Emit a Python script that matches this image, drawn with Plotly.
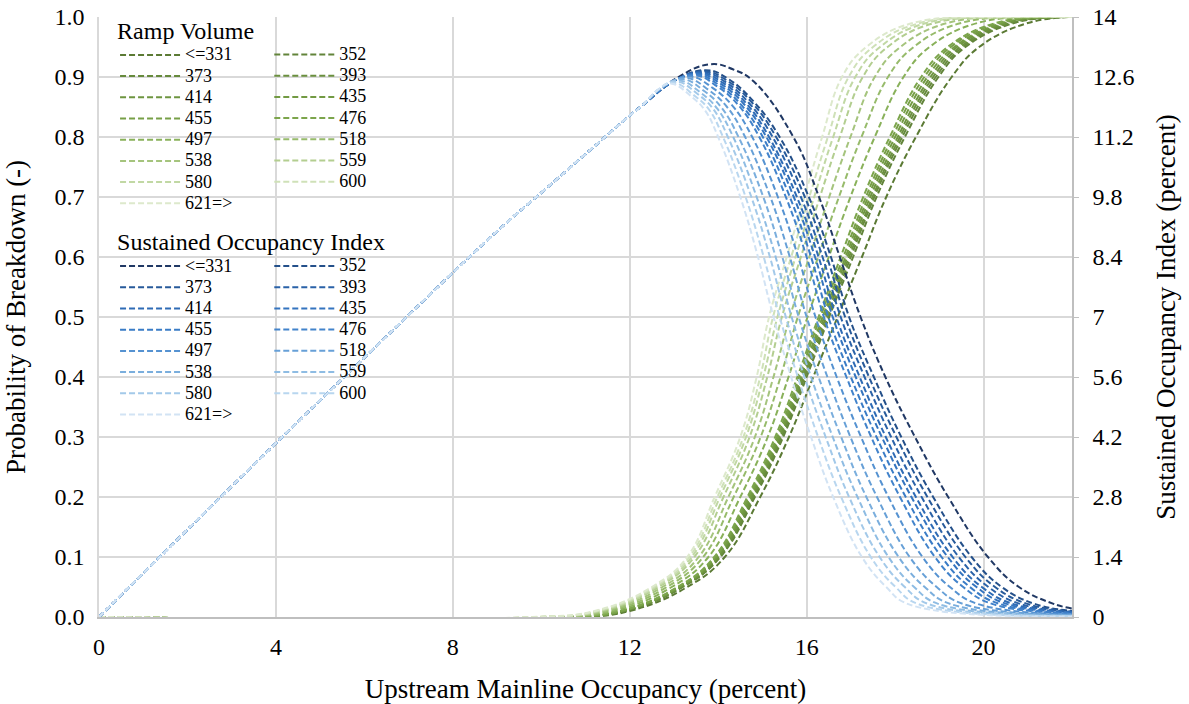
import plotly.graph_objects as go

# ---------------- data ----------------
ramp_labels = ["<=331", "352", "373", "393", "414", "435", "455", "476",
               "497", "518", "538", "559", "580", "600", "621=>"]

# Probability of breakdown: x position (upstream occupancy) where each curve reaches these levels
prob_levels = [0.0, 0.01, 0.05, 0.1, 0.2, 0.3, 0.4, 0.5, 0.6, 0.7, 0.8, 0.9, 0.95, 0.99, 1.0]
gx_331 = [10.8, 12.0, 13.3, 14.15, 14.95, 15.6, 16.15, 16.7, 17.25, 17.8, 18.47, 19.28, 19.9, 21.0, 22.0]
gx_352 = [10.68, 11.90, 13.20, 14.05, 14.83, 15.47, 16.00, 16.51, 17.05, 17.58, 18.22, 18.98, 19.59, 20.69, 21.82]
gx_373 = [10.66, 11.88, 13.18, 14.03, 14.80, 15.44, 15.96, 16.48, 17.00, 17.53, 18.16, 18.92, 19.53, 20.62, 21.78]
gx_393 = [10.63, 11.86, 13.16, 14.01, 14.78, 15.41, 15.93, 16.44, 16.96, 17.49, 18.11, 18.86, 19.47, 20.56, 21.75]
gx_414 = [10.61, 11.84, 13.14, 13.98, 14.75, 15.39, 15.90, 16.40, 16.92, 17.44, 18.06, 18.80, 19.40, 20.49, 21.71]
gx_435 = [10.58, 11.82, 13.12, 13.96, 14.72, 15.36, 15.87, 16.36, 16.88, 17.39, 18.00, 18.73, 19.34, 20.43, 21.67]
gx_455 = [10.55, 11.80, 13.10, 13.94, 14.69, 15.33, 15.83, 16.31, 16.83, 17.34, 17.94, 18.66, 19.26, 20.35, 21.63]
gx_476 = [10.52, 11.78, 13.08, 13.91, 14.66, 15.29, 15.79, 16.27, 16.77, 17.28, 17.88, 18.59, 19.19, 20.27, 21.58]
gx_497 = [10.36, 11.65, 12.95, 13.78, 14.50, 15.12, 15.59, 16.02, 16.50, 16.99, 17.54, 18.19, 18.78, 19.86, 21.34]
gx_518 = [10.22, 11.54, 12.84, 13.66, 14.35, 14.96, 15.41, 15.80, 16.26, 16.73, 17.24, 17.84, 18.42, 19.49, 21.13]
gx_538 = [10.10, 11.44, 12.74, 13.56, 14.23, 14.83, 15.25, 15.62, 16.06, 16.51, 16.99, 17.54, 18.12, 19.18, 20.95]
gx_559 = [9.99, 11.35, 12.65, 13.46, 14.12, 14.71, 15.11, 15.44, 15.87, 16.30, 16.75, 17.27, 17.83, 18.89, 20.79]
gx_580 = [9.92, 11.30, 12.60, 13.40, 14.04, 14.63, 15.02, 15.34, 15.75, 16.17, 16.60, 17.10, 17.66, 18.71, 20.68]
gx_600 = [9.86, 11.25, 12.55, 13.35, 13.98, 14.57, 14.95, 15.24, 15.65, 16.06, 16.48, 16.95, 17.50, 18.56, 20.59]
gx_621 = [9.80, 11.20, 12.50, 13.30, 13.92, 14.50, 14.87, 15.15, 15.55, 15.95, 16.35, 16.80, 17.35, 18.40, 20.50]
prob_curves = [gx_331, gx_352, gx_373, gx_393, gx_414, gx_435, gx_455, gx_476,
               gx_497, gx_518, gx_538, gx_559, gx_580, gx_600, gx_621]

# Sustained occupancy index: shared rising part
soi_rise_x = [0, 3, 6, 9, 10, 11, 12, 12.3]
soi_rise_y = [0, 3.05, 6.05, 9.0, 9.9, 10.8, 11.7, 11.95]
# around the peak, per curve
soi_pre_x = [13.1, 13.0, 12.98, 12.96, 12.94, 12.92, 12.9, 12.88, 12.83, 12.78, 12.74, 12.7, 12.67, 12.64, 12.6]
soi_pre_y = [12.6, 12.5, 12.49, 12.48, 12.47, 12.46, 12.45, 12.44, 12.42, 12.39, 12.37, 12.34, 12.32, 12.3, 12.27]
soi_peak_x = [13.84, 13.72, 13.68, 13.64, 13.6, 13.56, 13.52, 13.48, 13.38, 13.28, 13.2, 13.12, 13.05, 12.98, 12.92]
soi_peak_y = [12.9, 12.76, 12.74, 12.72, 12.70, 12.68, 12.66, 12.64, 12.61, 12.58, 12.55, 12.52, 12.5, 12.47, 12.45]
soi_post_x = [14.33, 14.22, 14.18, 14.14, 14.1, 14.06, 14.02, 13.98, 13.88, 13.78, 13.7, 13.62, 13.55, 13.48, 13.42]
soi_post_y = [12.78, 12.56, 12.53, 12.50, 12.47, 12.44, 12.41, 12.38, 12.34, 12.30, 12.26, 12.22, 12.19, 12.15, 12.12]
soi_post2_x = [14.8, 14.8, 14.75, 14.69, 14.63, 14.58, 14.52, 14.46, 14.33, 14.2, 14.08, 13.98, 13.89, 13.8, 13.71]
soi_post2_y = [12.5, 12.03, 12.02, 12.0, 11.99, 11.97, 11.95, 11.94, 11.92, 11.9, 11.88, 11.86, 11.85, 11.83, 11.81]
# descending part: x where each curve falls to these levels
soi_levels = [11.2, 9.8, 8.4, 7.0, 5.6, 4.2, 2.8, 1.4, 0.7, 0.3]
sx_331 = [15.7, 16.28, 16.75, 17.22, 17.78, 18.45, 19.2, 20.1, 20.8, 21.6]
sx_352 = [15.39, 16.05, 16.55, 16.96, 17.52, 18.14, 18.86, 19.73, 20.41, 21.17]
sx_373 = [15.31, 15.96, 16.46, 16.87, 17.41, 18.03, 18.73, 19.59, 20.26, 21.01]
sx_393 = [15.23, 15.87, 16.36, 16.77, 17.31, 17.91, 18.60, 19.44, 20.11, 20.84]
sx_414 = [15.15, 15.78, 16.27, 16.67, 17.20, 17.79, 18.47, 19.30, 19.96, 20.68]
sx_435 = [15.09, 15.71, 16.19, 16.59, 17.11, 17.70, 18.37, 19.19, 19.84, 20.54]
sx_455 = [15.01, 15.62, 16.10, 16.49, 17.00, 17.58, 18.24, 19.05, 19.69, 20.38]
sx_476 = [14.93, 15.53, 16.00, 16.39, 16.90, 17.46, 18.11, 18.90, 19.54, 20.21]
sx_497 = [14.77, 15.35, 15.81, 16.20, 16.68, 17.23, 17.85, 18.62, 19.24, 19.88]
sx_518 = [14.61, 15.18, 15.62, 16.00, 16.47, 16.99, 17.59, 18.33, 18.94, 19.55]
sx_538 = [14.46, 15.02, 15.45, 15.82, 16.27, 16.78, 17.35, 18.08, 18.67, 19.26]
sx_559 = [14.34, 14.87, 15.30, 15.66, 16.10, 16.59, 17.15, 17.85, 18.43, 18.99]
sx_580 = [14.22, 14.75, 15.17, 15.53, 15.95, 16.43, 16.96, 17.65, 18.22, 18.76]
sx_600 = [14.11, 14.62, 15.03, 15.39, 15.80, 16.26, 16.78, 17.45, 18.01, 18.53]
sx_621 = [14.0, 14.5, 14.9, 15.25, 15.65, 16.1, 16.6, 17.25, 17.8, 18.3]
soi_curves = [sx_331, sx_352, sx_373, sx_393, sx_414, sx_435, sx_455, sx_476,
              sx_497, sx_518, sx_538, sx_559, sx_580, sx_600, sx_621]
soi_end_y = [0.2, 0.14, 0.13, 0.12, 0.11, 0.1, 0.09, 0.08, 0.06, 0.05, 0.04, 0.03, 0.02, 0.02, 0.01]

x_ticks = [0, 4, 8, 12, 16, 20]
right_ticks = [0, 1.4, 2.8, 4.2, 5.6, 7, 8.4, 9.8, 11.2, 12.6, 14]
right_tick_text = ["0", "1.4", "2.8", "4.2", "5.6", "7", "8.4", "9.8", "11.2", "12.6", "14"]

# ---------------- styles ----------------
green_colors = ["#5b7a34", "#62843a", "#668a3c", "#6a8f3e", "#6e9540", "#729a43", "#779f47", "#7ca54c",
                "#89b15a", "#97bb6b", "#a5c47d", "#b3ce90", "#c1d8a4", "#cfe1b8", "#dde9cc"]
blue_colors = ["#203864", "#24508a", "#275a9a", "#2a62a8", "#2e6bb5", "#3474bf", "#3a7cc6", "#4283cb",
               "#5592d1", "#67a0d7", "#7aaedd", "#8ebce3", "#a3c9e9", "#b8d6ef", "#d2e3f4"]
DASH = "6px,3px"
FONT = "Liberation Serif, Times New Roman, serif"
SMOOTH = 1.2


def entry(text):
    return '<span style="font-size:18px">' + text + '</span>'


def head(text):
    return '<span style="font-size:24px">' + text + '</span>'


fig = go.Figure()

for i, lab in enumerate(ramp_labels):
    xs = [0] + list(prob_curves[i])
    ys = [0] + list(prob_levels)
    if xs[-1] < 22:
        xs.append(22)
        ys.append(1.0)
    fig.add_trace(go.Scatter(
        x=xs, y=ys, mode="lines", name=entry(lab), cliponaxis=False,
        line=dict(color=green_colors[i], width=2, dash=DASH, shape="spline", smoothing=SMOOTH),
        legend="legend" if i % 2 == 0 else "legend2",
        hoverinfo="skip"))

for i, lab in enumerate(ramp_labels):
    xs = (list(soi_rise_x) + [soi_pre_x[i], soi_peak_x[i], soi_post_x[i], soi_post2_x[i]]
          + list(soi_curves[i]) + [22])
    ys = (list(soi_rise_y) + [soi_pre_y[i], soi_peak_y[i], soi_post_y[i], soi_post2_y[i]]
          + list(soi_levels) + [soi_end_y[i]])
    fig.add_trace(go.Scatter(
        x=xs, y=ys, mode="lines", name=entry(lab), yaxis="y2", cliponaxis=False,
        line=dict(color=blue_colors[i], width=2, dash=DASH, shape="spline", smoothing=SMOOTH),
        legend="legend3" if i % 2 == 0 else "legend4",
        hoverinfo="skip"))

leg_common = dict(xanchor="left", yanchor="top", bgcolor="rgba(0,0,0,0)", borderwidth=0,
                  font=dict(family=FONT, size=14, color="#000000"), itemwidth=60,
                  tracegroupgap=0, traceorder="normal")
title_font = dict(family=FONT, size=19, color="#000000")

fig.update_layout(
    width=1189, height=704,
    margin=dict(l=99, r=117, t=17, b=87),
    paper_bgcolor="white", plot_bgcolor="white",
    font=dict(family=FONT, size=24, color="#000000"),
    showlegend=True,
    legend=dict(x=0.0165, y=1.004, title=dict(text=head("Ramp Volume"), font=title_font), **leg_common),
    legend2=dict(x=0.175, y=0.9635, **leg_common),
    legend3=dict(x=0.0165, y=0.652, title=dict(text=head("Sustained Occupancy Index"), font=title_font), **leg_common),
    legend4=dict(x=0.175, y=0.611, **leg_common),
    xaxis=dict(range=[0, 22], tickvals=x_ticks, showgrid=True, gridcolor="#d9d9d9", gridwidth=1.5,
               showline=True, linecolor="#bfbfbf", linewidth=2, zeroline=False, ticks="",
               automargin=False, ticklabelstandoff=7, ticklabeloverflow="allow", layer="below traces",
               tickfont=dict(family=FONT, size=24),
               title=dict(text="Upstream Mainline Occupancy (percent)", font=dict(family=FONT, size=27), standoff=22)),
    yaxis=dict(range=[0, 1], dtick=0.1, tickformat=".1f", showgrid=True, gridcolor="#d9d9d9", gridwidth=1.5,
               showline=True, linecolor="#d9d9d9", linewidth=1.5, zeroline=False, ticks="",
               automargin=False, ticklabelstandoff=8, ticklabeloverflow="allow", layer="below traces",
               tickfont=dict(family=FONT, size=24),
               title=dict(text="Probability of Breakdown (-)", font=dict(family=FONT, size=27), standoff=21)),
    yaxis2=dict(range=[0, 14], overlaying="y", side="right", tickvals=right_ticks, ticktext=right_tick_text,
                showgrid=False, showline=True, linecolor="#bfbfbf", linewidth=1.5, zeroline=False,
                ticks="outside", ticklen=5, tickcolor="#bfbfbf",
                automargin=False, ticklabelstandoff=9, ticklabeloverflow="allow",
                tickfont=dict(family=FONT, size=24),
                title=dict(text="Sustained Occupancy Index (percent)", font=dict(family=FONT, size=27), standoff=23)),
)

# remove the browser's default 8px page margin so the figure sits at the window's corner
fig.write_html("out.html", config={"displayModeBar": False},
               post_script="document.body.style.margin='0';")
